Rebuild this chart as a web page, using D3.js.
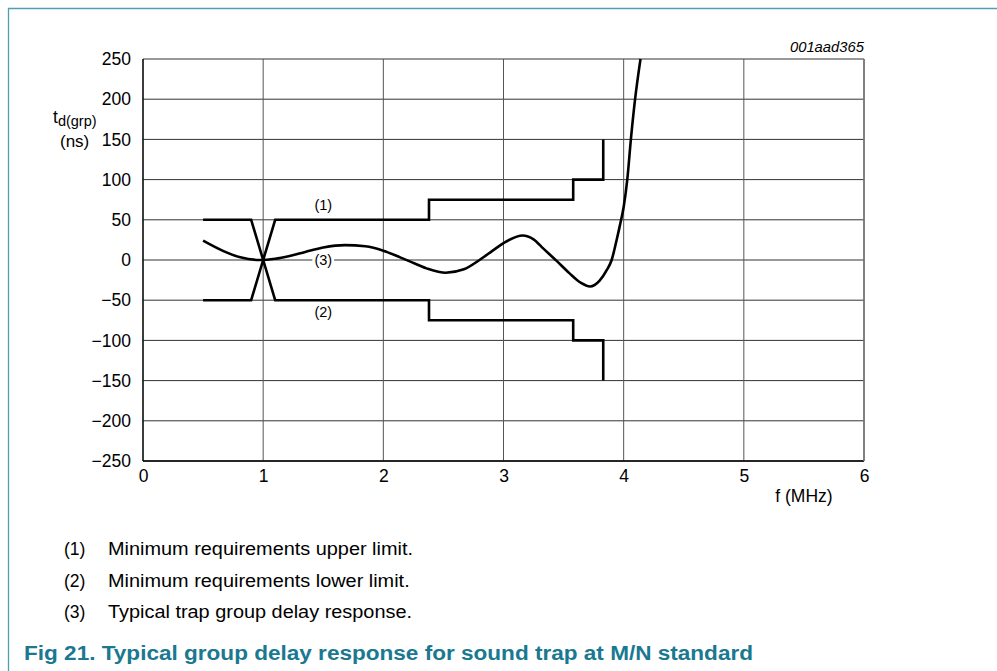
<!DOCTYPE html>
<html><head><meta charset="utf-8">
<script src="https://cdn.jsdelivr.net/npm/d3@7"></script>
<style>
body{margin:0;background:#fff;}
svg{display:block;font-family:"Liberation Sans",Arial,sans-serif;}
</style></head>
<body><svg id="c" width="997" height="671"></svg>
<script>
const xTicks = [0,1,2,3,4,5,6];
const yTicks = [250,200,150,100,50,0,-50,-100,-150,-200,-250];
const upperLimit = [[0.5,50],[0.9,50],[1.0,0],[1.1,50],[2.38,50],[2.38,75],[3.58,75],[3.58,100],[3.83,100],[3.83,150]];
const lowerLimit = [[0.5,-50],[0.9,-50],[1.0,0],[1.1,-50],[2.38,-50],[2.38,-75],[3.58,-75],[3.58,-100],[3.83,-100],[3.83,-150]];
const responseF = [0.5,0.67,0.81,0.97,1.1,1.22,1.35,1.5,1.68,1.85,2.0,2.14,2.22,2.36,2.52,2.67,2.8,2.91,3.0,3.16,3.25,3.33,3.44,3.55,3.64,3.72,3.8,3.86,3.9,3.94,3.97,4.0,4.03,4.06,4.095,4.14];
const responseT = [24,11,3.3,0,1.5,5,10,15.5,18.5,17,11.6,3.3,-1.7,-10.4,-15.8,-11.6,0,11.6,21,30.5,25.7,14.5,-0.8,-16.6,-28,-33,-25.7,-12.4,0,24,44,66,100,150,200,250];
const curveLabels = [{t:"(1)",f:1.5,v:68},{t:"(3)",f:1.5,v:0},{t:"(2)",f:1.5,v:-65}];
const legendItems = [["(1)","Minimum requirements upper limit."],["(2)","Minimum requirements lower limit."],["(3)","Typical trap group delay response."]];
const title = "Fig 21. Typical group delay response for sound trap at M/N standard";

const svg = d3.select("#c");
const x = d3.scaleLinear().domain([0,6]).range([143,864]);
const y = d3.scaleLinear().domain([-250,250]).range([461,59]);

// frame
svg.append("path").attr("d","M8.5,671 V8.5 H997").attr("fill","none").attr("stroke","#4f9fb3").attr("stroke-width",1.3);

// grid
const g = svg.append("g");
g.selectAll(".hg").data(yTicks).enter().append("line")
 .attr("x1",x(0)).attr("x2",x(6)).attr("y1",d=>y(d)).attr("y2",d=>y(d))
 .attr("stroke","#333").attr("stroke-width",1);
g.selectAll(".vg").data(xTicks).enter().append("line")
 .attr("y1",y(-250)).attr("y2",y(250)).attr("x1",d=>x(d)).attr("x2",d=>x(d))
 .attr("stroke","#555").attr("stroke-width",1);
g.append("line").attr("x1",x(0)).attr("x2",x(0)).attr("y1",y(-250)).attr("y2",y(250)).attr("stroke","#000").attr("stroke-width",1.3);
g.append("line").attr("x1",x(0)).attr("x2",x(6)).attr("y1",y(-250)).attr("y2",y(-250)).attr("stroke","#000").attr("stroke-width",1.3);
g.append("line").attr("x1",x(6)).attr("x2",x(6)).attr("y1",y(-250)).attr("y2",y(250)).attr("stroke","#777").attr("stroke-width",1.6);

// axes labels via d3 axes
const yAxis = d3.axisLeft(y).tickValues(yTicks).tickSize(0).tickPadding(12)
  .tickFormat(d=> d<0 ? "\u2212"+Math.abs(d) : String(d));
const ya = svg.append("g").attr("transform",`translate(${x(0)},0)`).call(yAxis);
ya.select(".domain").remove();
ya.selectAll("text").attr("font-size",17.5).attr("fill","#000").attr("font-family","Liberation Sans, Arial");
const xAxis = d3.axisBottom(x).tickValues(xTicks).tickSize(0).tickPadding(9).tickFormat(d3.format("d"));
const xa = svg.append("g").attr("transform",`translate(0,${y(-250)})`).call(xAxis);
xa.select(".domain").remove();
xa.selectAll("text").attr("font-size",17.5).attr("fill","#000").attr("font-family","Liberation Sans, Arial");

// axis titles
const yl = svg.append("text").attr("x",53).attr("y",123).attr("font-size",17.5);
yl.append("tspan").text("t");
yl.append("tspan").attr("dy",3).attr("font-size",14.5).text("d(grp)");
svg.append("text").attr("x",60).attr("y",147).attr("font-size",17).text("(ns)");
svg.append("text").attr("x",804).attr("y",502).attr("text-anchor","middle").attr("font-size",17.5).text("f (MHz)");
svg.append("text").attr("x",864).attr("y",52).attr("text-anchor","end").attr("font-size",14.8).attr("font-style","italic").text("001aad365");

// curves
const line = d3.line().x(d=>x(d[0])).y(d=>y(d[1]));
[upperLimit,lowerLimit].forEach(data=>{
  svg.append("path").attr("d",line(data)).attr("fill","none").attr("stroke","#000").attr("stroke-width",2.6).attr("stroke-linejoin","miter");
});
const resp = responseF.map((f,i)=>[f,responseT[i]]);
svg.append("path").attr("d",d3.line().x(d=>x(d[0])).y(d=>y(d[1])).curve(d3.curveMonotoneX)(resp))
  .attr("fill","none").attr("stroke","#000").attr("stroke-width",2.6);

// curve labels
curveLabels.forEach(c=>{
  const t = svg.append("text").attr("x",x(c.f)).attr("y",y(c.v)).attr("dy","0.35em")
   .attr("text-anchor","middle").attr("font-size",14.5).text(c.t);
  if(c.v===0){
    const bb = t.node().getBBox();
    svg.append("rect").attr("x",bb.x-2).attr("y",y(0)-2).attr("width",bb.width+4).attr("height",4).attr("fill","#fff");
    t.raise();
  }
});

// legend
let k = null;
legendItems.forEach((l,i)=>{
  const yy = 555 + i*31.5;
  svg.append("text").attr("x",64).attr("y",yy).attr("font-size",17.5).text(l[0]);
  const t = svg.append("text").attr("x",108).attr("y",yy).attr("font-size",17.5).text(l[1]);
  const w = t.node().getComputedTextLength();
  if(k===null) k = 305 / w;
  t.attr("textLength", w*k).attr("lengthAdjust","spacingAndGlyphs");
});
const tt = svg.append("text").attr("x",24).attr("y",660).attr("font-size",20).attr("font-weight","bold")
  .attr("fill","#1a7891").text(title);
tt.attr("textLength", 729).attr("lengthAdjust","spacingAndGlyphs");
</script></body></html>
